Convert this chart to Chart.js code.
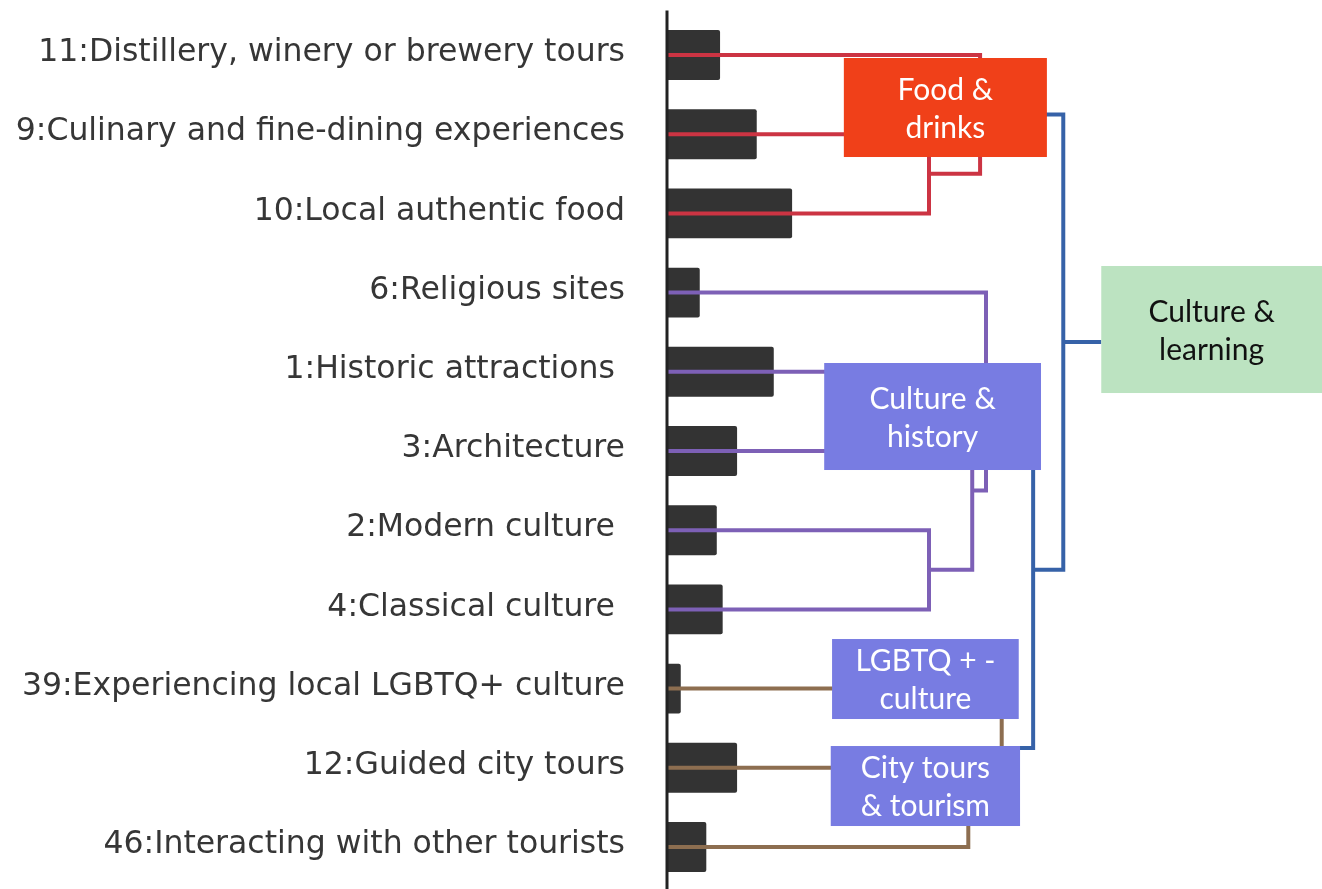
<!DOCTYPE html>
<html><head><meta charset="utf-8">
<script src="https://cdn.jsdelivr.net/npm/chart.js@4.4.1/dist/chart.umd.min.js"></script>
<style>html,body{margin:0;padding:0;background:#fff;}canvas{display:block}</style>
</head><body>
<canvas id="c" width="1322" height="889"></canvas>
<script>
// ---- data ----
const categories = [
  "11:Distillery, winery or brewery tours",
  "9:Culinary and fine-dining experiences",
  "10:Local authentic food",
  "6:Religious sites",
  "1:Historic attractions ",
  "3:Architecture",
  "2:Modern culture ",
  "4:Classical culture ",
  "39:Experiencing local LGBTQ+ culture",
  "12:Guided city tours",
  "46:Interacting with other tourists"
];
const barValues = [8.1, 13.7, 19.1, 5.0, 16.3, 10.7, 7.6, 8.5, 2.1, 10.7, 6.0];

// dendrogram linkage (leaves 0..10 in display order, link k creates node 11+k)
const linkLeft  = [1, 0, 4, 6, 13, 3, 9, 8, 16, 12];
const linkRight = [2, 11, 5, 7, 14, 15, 10, 17, 18, 19];
const linkDist  = [0.400, 0.478, 0.356, 0.400, 0.466, 0.487, 0.460, 0.511, 0.559, 0.605];
const linkGroup = ["food", "food", "history", "history", "history", "history", "tours", "tours", "top", "top"];

const clusterLabels = [["Food &", "drinks"], ["Culture &", "history"], ["LGBTQ + -", "culture"], ["City tours", "& tourism"], ["Culture &", "learning"]];

// ---- styles / layout ----
const groupColors = { food: "#cc3443", history: "#7d60b6", tours: "#8d6e50", top: "#3662a8" };
// boxes in scale units (xd: 0..1, yd: category index)
const boxLayout = [
  { x0: 0.270, x1: 0.580, y0: 0.038, y1: 1.288, fill: "#f04019", text: "#ffffff" },
  { x0: 0.240, x1: 0.571, y0: 3.889, y1: 5.240, fill: "#787ce2", text: "#ffffff" },
  { x0: 0.252, x1: 0.537, y0: 7.374, y1: 8.384, fill: "#787ce2", text: "#ffffff" },
  { x0: 0.250, x1: 0.539, y0: 8.725, y1: 9.735, fill: "#787ce2", text: "#ffffff" },
  { x0: 0.663, x1: 1.000, y0: 2.664, y1: 4.268, fill: "#bce3c1", text: "#111111" }
];

// ---- build dendrogram segments from linkage ----
const nodePos = categories.map((_, i) => i);
const nodeH = categories.map(() => 0);
const lineDatasets = [];
linkLeft.forEach((l, k) => {
  const r = linkRight[k], d = linkDist[k];
  const pl = nodePos[l], pr = nodePos[r];
  lineDatasets.push({
    type: "line", xAxisID: "xd", yAxisID: "yd", indexAxis: "y",
    data: [{ x: nodeH[l], y: pl }, { x: d, y: pl }, { x: d, y: pr }, { x: nodeH[r], y: pr }],
    borderColor: groupColors[linkGroup[k]], borderWidth: 4, pointRadius: 0, tension: 0,
    fill: false, borderJoinStyle: "miter", borderCapStyle: "butt", order: 0
  });
  nodePos.push((pl + pr) / 2);
  nodeH.push(d);
});
// root stub to the top-level box
const rootIdx = nodePos.length - 1;
lineDatasets.push({
  type: "line", xAxisID: "xd", yAxisID: "yd", indexAxis: "y",
  data: [{ x: nodeH[rootIdx], y: nodePos[rootIdx] }, { x: boxLayout[4].x0, y: nodePos[rootIdx] }],
  borderColor: groupColors.top, borderWidth: 4, pointRadius: 0, fill: false, order: 0
});

const overlay = {
  id: "overlay",
  afterDatasetsDraw(chart) {
    const ctx = chart.ctx, xs = chart.scales.xd, ys = chart.scales.yd, yc = chart.scales.y;
    ctx.save();
    // spine
    ctx.strokeStyle = "#222";
    ctx.lineWidth = 3;
    ctx.beginPath();
    ctx.moveTo(yc.right, chart.chartArea.top - 5);
    ctx.lineTo(yc.right, chart.height);
    ctx.stroke();
    // cluster boxes
    boxLayout.forEach((b, i) => {
      const x0 = xs.getPixelForValue(b.x0), x1 = xs.getPixelForValue(b.x1);
      const y0 = ys.getPixelForValue(b.y0), y1 = ys.getPixelForValue(b.y1);
      ctx.fillStyle = b.fill;
      ctx.fillRect(x0, y0, x1 - x0, y1 - y0);
      ctx.fillStyle = b.text;
      ctx.font = "30px Lato";
      ctx.textAlign = "center";
      ctx.textBaseline = "middle";
      const cx = (x0 + x1) / 2, cy = (y0 + y1) / 2 + 1.5;
      const lines = clusterLabels[i];
      lines.forEach((t, j) => ctx.fillText(t, cx, cy + (j - (lines.length - 1) / 2) * 38));
    });
    ctx.restore();
  }
};

new Chart(document.getElementById("c"), {
  type: "bar",
  data: {
    labels: categories,
    datasets: [{
      type: "bar", data: barValues, xAxisID: "x", yAxisID: "y", grouped: false,
      backgroundColor: "#333333", barPercentage: 0.63, categoryPercentage: 1,
      borderRadius: 2, borderSkipped: "start", order: 10
    }, ...lineDatasets]
  },
  options: {
    indexAxis: "y",
    responsive: false,
    animation: false,
    events: [],
    layout: { padding: { top: 15.4, bottom: 2.4, left: 0, right: 0 } },
    plugins: { legend: { display: false }, tooltip: { enabled: false } },
    scales: {
      x: { type: "linear", axis: "x", min: 0, max: 100, display: false, offset: false },
      xd: { type: "linear", axis: "x", min: 0, max: 1, display: false, offset: false },
      y: {
        type: "category", position: "left", offset: true,
        grid: { display: false, drawTicks: false },
        border: { display: false },
        ticks: { font: { family: "DejaVu Sans", size: 31.5 }, color: "#363636", padding: 42, labelOffset: -2, autoSkip: false },
        afterFit(s) { s.width = 667; s.paddingTop = 0; s.paddingBottom = 0; }
      },
      yd: { type: "linear", axis: "y", position: "left", min: -0.5, max: 10.5, reverse: true, display: false, offset: false, grace: 0 }
    }
  },
  plugins: [overlay]
});
</script>
</body></html>
